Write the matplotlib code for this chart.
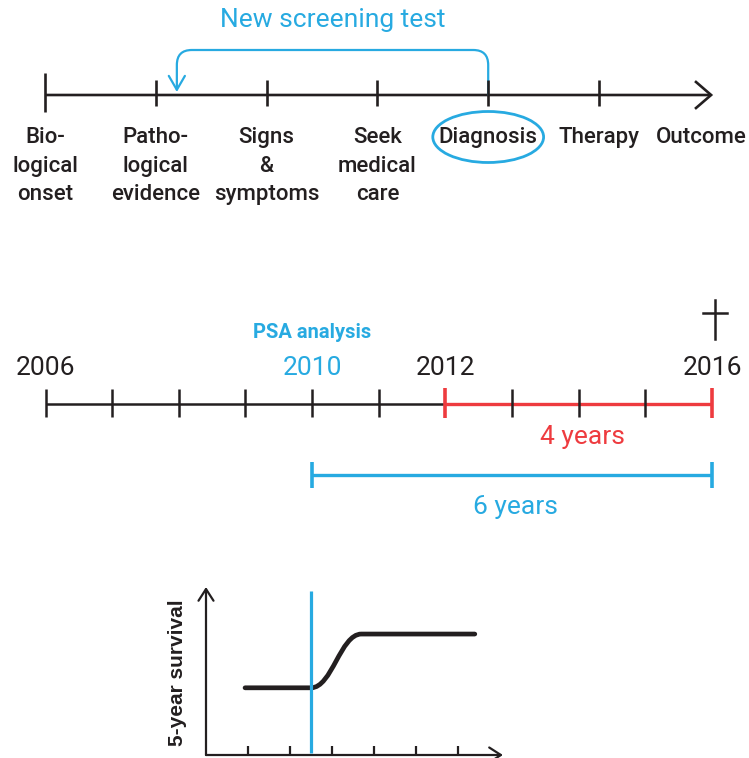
import matplotlib
matplotlib.use('Agg')
import matplotlib.pyplot as plt
from matplotlib.path import Path
from matplotlib.patches import FancyArrowPatch, Ellipse, PathPatch

# ---------------- data ----------------
stages = ['Bio-\nlogical\nonset', 'Patho-\nlogical\nevidence', 'Signs\n&\nsymptoms',
          'Seek\nmedical\ncare', 'Diagnosis', 'Therapy', 'Outcome']
stage_ticks = [0, 1, 2, 3, 4, 5]
screening_from = 4          # Diagnosis
screening_to = 1.19         # just after pathological evidence
screening_label = 'New screening test'

years = list(range(2006, 2017))
year_labels = [2006, 2010, 2012, 2016]
psa_year = 2010
diagnosis_year = 2012
death_year = 2016
span_red_label = '4 years'
span_blue_label = '6 years'

# survival sketch (x in follow-up ticks, y in survival fraction)
survival_ticks = [0, 1, 2, 3, 4, 5]
screen_x = 1.5
curve_x = [-0.07, 1.5, 2.0, 2.2, 2.7, 5.4]
curve_y = [0.40, 0.40, 0.40, 0.72, 0.72, 0.72]

# ---------------- style ----------------
BLACK = '#231F20'
BLUE = '#27AAE1'
RED = '#EE3B3F'
W, H = 749, 758

fig = plt.figure(figsize=(W / 100, H / 100), dpi=100)

# ======== top timeline (x: stage index, y: pixel rows) ========
ax = fig.add_axes([0, 0, 1, 1])
ax.set_axis_off()
step = 110.8
ax.set_xlim(-45 / step, (W - 45) / step)
ax.set_ylim(H, 0)

y0 = 95
arr = FancyArrowPatch((stage_ticks[0], y0), (len(stages) - 1 + 0.03, y0),
                      arrowstyle='->,head_length=0.58,head_width=0.5',
                      mutation_scale=20, lw=1.9, color=BLACK,
                      shrinkA=0, shrinkB=0, joinstyle='miter', capstyle='butt')
ax.add_patch(arr)
ax.vlines(stage_ticks[0], 73, 112, color=BLACK, lw=1.9)
ax.vlines(stage_ticks[1:], 80, 106, color=BLACK, lw=1.9)

for i, s in enumerate(stages):
    dx = -0.08 if i == len(stages) - 1 else 0
    ax.text(i + dx, 127, s, ha='center', va='top', fontsize=16,
            family='Roboto', fontweight='medium', color=BLACK, linespacing=1.47)

ax.add_patch(Ellipse((screening_from, 137), width=1.0, height=51, fill=False,
                     ec=BLUE, lw=2))

rx, ry, ytop = 0.135, 15, 50
verts = [(screening_from, y0), (screening_from, ytop + ry), (screening_from, ytop),
         (screening_from - rx, ytop), (screening_to + rx, ytop), (screening_to, ytop),
         (screening_to, ytop + ry), (screening_to, y0 - 3)]
codes = [Path.MOVETO, Path.LINETO, Path.CURVE3, Path.CURVE3, Path.LINETO,
         Path.CURVE3, Path.CURVE3, Path.LINETO]
br = FancyArrowPatch(path=Path(verts, codes),
                     arrowstyle='->,head_length=0.5,head_width=0.29',
                     mutation_scale=20, lw=1.6, color=BLUE, shrinkA=0, shrinkB=0)
ax.add_patch(br)
ax.text((screening_from + screening_to) / 2, 20, screening_label, ha='center',
        va='center', fontsize=19, family='Roboto', color=BLUE)

# ======== middle timeline (x: year, y: pixel rows) ========
axm = fig.add_axes([0, 0, 1, 1])
axm.set_axis_off()
ystep = 66.65
axm.set_xlim(years[0] - 45.5 / ystep, years[0] + (W - 45.5) / ystep)
axm.set_ylim(H, 0)
axm.patch.set_alpha(0)

ym = 404
axm.plot([years[0], diagnosis_year], [ym, ym], color=BLACK, lw=1.8, solid_capstyle='butt')
axm.plot([diagnosis_year, death_year], [ym, ym], color=RED, lw=2.4, solid_capstyle='butt')
black_ticks = [y for y in years if y not in (diagnosis_year, death_year)]
axm.vlines(black_ticks, 389, 417, color=BLACK, lw=1.8)
axm.vlines([diagnosis_year, death_year], 388, 418, color=RED, lw=2.6)

for y in year_labels:
    axm.text(y, 368, str(y), ha='center', va='center', fontsize=19, family='Roboto',
             color=BLUE if y == psa_year else BLACK)
axm.text(psa_year, 333, 'PSA analysis', ha='center', va='center', fontsize=14.5,
         family='Roboto', fontweight='bold', color=BLUE)

# dagger for death
axm.plot([death_year + 0.04, death_year + 0.04], [300, 339], color=BLACK, lw=1.8)
axm.plot([death_year - 0.14, death_year + 0.22], [313, 313], color=BLACK, lw=1.8)

axm.text((diagnosis_year + death_year) / 2 + 0.05, 437, span_red_label, ha='center',
         va='center', fontsize=19, family='Roboto', color=RED)

yb = 475
axm.plot([psa_year, death_year], [yb, yb], color=BLUE, lw=2.4, solid_capstyle='butt')
axm.vlines([psa_year, death_year], 462, 488, color=BLUE, lw=2.6)
axm.text((psa_year + death_year) / 2 + 0.05, 507, span_blue_label, ha='center',
         va='center', fontsize=19, family='Roboto', color=BLUE)

# ======== bottom survival sketch ========
axb = fig.add_axes([0, 0, 1, 1])
axb.set_axis_off()
axb.patch.set_alpha(0)
tstep = 42.0
sstep = 168.0
axb.set_xlim(-248 / tstep, (W - 248) / tstep)
axb.set_ylim(-(H - 755) / sstep, 755 / sstep)

x_axis_start = -1.0
axb.add_patch(FancyArrowPatch((x_axis_start, 0), (x_axis_start, 1.0),
                              arrowstyle='->,head_length=0.42,head_width=0.27',
                              mutation_scale=20, lw=1.6, color=BLACK,
                              shrinkA=0, shrinkB=0))
axb.add_patch(FancyArrowPatch((x_axis_start, 0), (6.07, 0),
                              arrowstyle='->,head_length=0.42,head_width=0.27',
                              mutation_scale=20, lw=1.6, color=BLACK,
                              shrinkA=0, shrinkB=0))
axb.vlines(survival_ticks, 0, 0.055, color=BLACK, lw=1.6)

axb.vlines(screen_x, 0.01, 0.976, color=BLUE, lw=2.3)

ccodes = [Path.MOVETO, Path.LINETO, Path.CURVE4, Path.CURVE4, Path.CURVE4, Path.LINETO]
curve = PathPatch(Path(list(zip(curve_x, curve_y)), ccodes), fill=False,
                  ec=BLACK, lw=3.4, capstyle='round', joinstyle='round')
axb.add_patch(curve)

axb.text(-1.67, 0.49, '5-year survival', rotation=90, ha='center', va='center',
         fontsize=15, family='Liberation Sans', fontweight='bold', color=BLACK)

fig.savefig('out.png', dpi=100)
